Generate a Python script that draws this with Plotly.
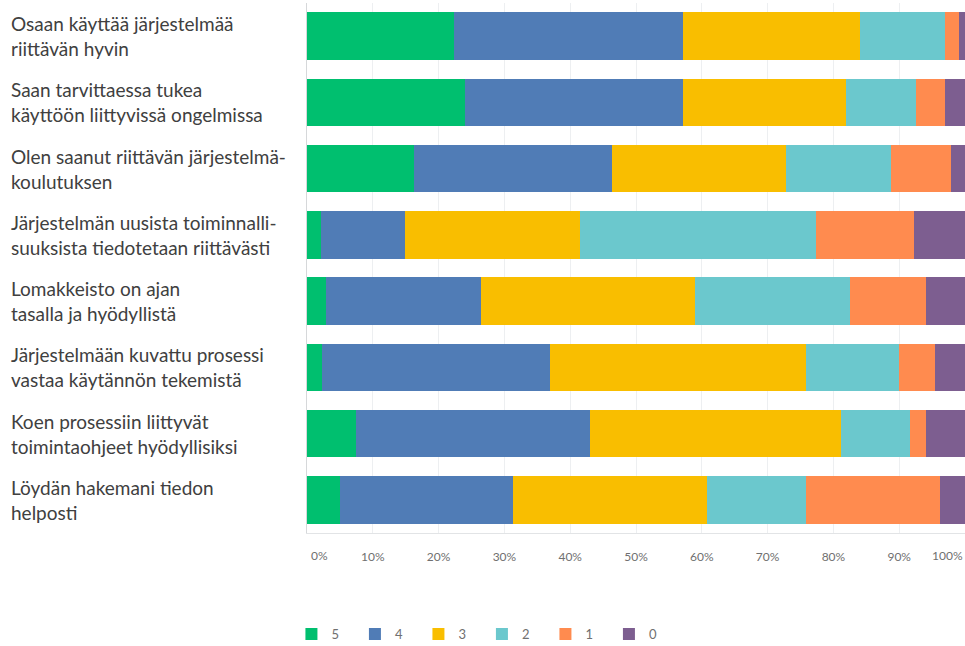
import plotly.graph_objects as go

# Survey statements (top to bottom)
statements = [
    "Osaan käyttää järjestelmää<br>riittävän hyvin",
    "Saan tarvittaessa tukea<br>käyttöön liittyvissä ongelmissa",
    "Olen saanut riittävän järjestelmä-<br>koulutuksen",
    "Järjestelmän uusista toiminnalli-<br>suuksista tiedotetaan riittävästi",
    "Lomakkeisto on ajan<br>tasalla ja hyödyllistä",
    "Järjestelmään kuvattu prosessi<br>vastaa käytännön tekemistä",
    "Koen prosessiin liittyvät<br>toimintaohjeet hyödyllisiksi",
    "Löydän hakemani tiedon<br>helposti",
]

# Share of answers (%) per rating, one value per statement
score_5 = [22.3, 24.0, 16.3, 2.1, 2.9, 2.3, 7.4, 5.0]
score_4 = [34.8, 33.2, 30.1, 12.8, 23.5, 34.7, 35.6, 26.3]
score_3 = [26.9, 24.7, 26.4, 26.6, 32.5, 38.8, 38.1, 29.5]
score_2 = [12.9, 10.6, 15.9, 35.8, 23.6, 14.1, 10.5, 15.1]
score_1 = [2.2, 4.5, 9.1, 15.0, 11.5, 5.5, 2.4, 20.3]
score_0 = [0.9, 3.0, 2.2, 7.7, 6.0, 4.6, 6.0, 3.8]

ratings = ["5", "4", "3", "2", "1", "0"]
series = [score_5, score_4, score_3, score_2, score_1, score_0]
colors = ["#00BF6F", "#507CB6", "#F9BE00", "#6BC8CD", "#FF8B4F", "#7D5E90"]

tick_vals = [0, 10, 20, 30, 40, 50, 60, 70, 80, 90, 100]
tick_text = ["", "10%", "20%", "30%", "40%", "50%", "60%", "70%", "80%", "90%", ""]

W, H = 965, 646
LEFT = 307
PLOT_W = W - LEFT

fig = go.Figure()
for name, vals, col in zip(ratings, series, colors):
    fig.add_trace(go.Bar(
        y=statements,
        x=vals,
        name=name,
        orientation="h",
        marker=dict(color=col, line=dict(width=0)),
        width=0.72,
        hoverinfo="x+name",
    ))

# Category labels, left aligned in the left margin
for s in statements:
    fig.add_annotation(
        x=-(LEFT - 9) / PLOT_W, xref="paper", y=s, yref="y",
        text=s, showarrow=False, align="left",
        xanchor="left", yanchor="middle",
        font=dict(family="Lato", size=19, color="#404040"),
    )
# Edge tick labels kept inside the page
fig.add_annotation(x=0, y=0, xref="x", yref="paper", text="0%", showarrow=False,
                   xanchor="left", yanchor="top", yshift=-13, xshift=2,
                   font=dict(family="Lato", size=12, color="#707070"))
fig.add_annotation(x=100, y=0, xref="x", yref="paper", text="100%", showarrow=False,
                   xanchor="right", yanchor="top", yshift=-13, xshift=0,
                   font=dict(family="Lato", size=12, color="#707070"))

fig.update_layout(
    barmode="stack",
    width=W, height=H,
    margin=dict(l=LEFT, r=0, t=3, b=113),
    paper_bgcolor="white",
    plot_bgcolor="white",
    showlegend=True,
    legend=dict(
        orientation="h", traceorder="normal",
        xref="container", yref="container",
        x=0.302, xanchor="left", y=1 - 634 / H, yanchor="middle",
        entrywidth=18.5, entrywidthmode="pixels",
        font=dict(family="Lato", size=13, color="#707070"),
    ),
    xaxis=dict(
        range=[0, 100],
        tickvals=tick_vals, ticktext=tick_text,
        showgrid=True, gridcolor="#EDEFF1", gridwidth=1,
        zeroline=False,
        showline=True, linecolor="#E2E4E6", linewidth=1, mirror=False,
        ticks="", ticklabelstandoff=13,
        tickfont=dict(family="Lato", size=12, color="#707070"),
        fixedrange=True,
    ),
    yaxis=dict(
        categoryorder="array", categoryarray=statements[::-1],
        showticklabels=False, showgrid=False, zeroline=False,
        showline=True, linecolor="#D6D8DA", linewidth=1,
        range=[-0.5, 7.5],
        fixedrange=True,
    ),
)

fig.write_html("out.html")
